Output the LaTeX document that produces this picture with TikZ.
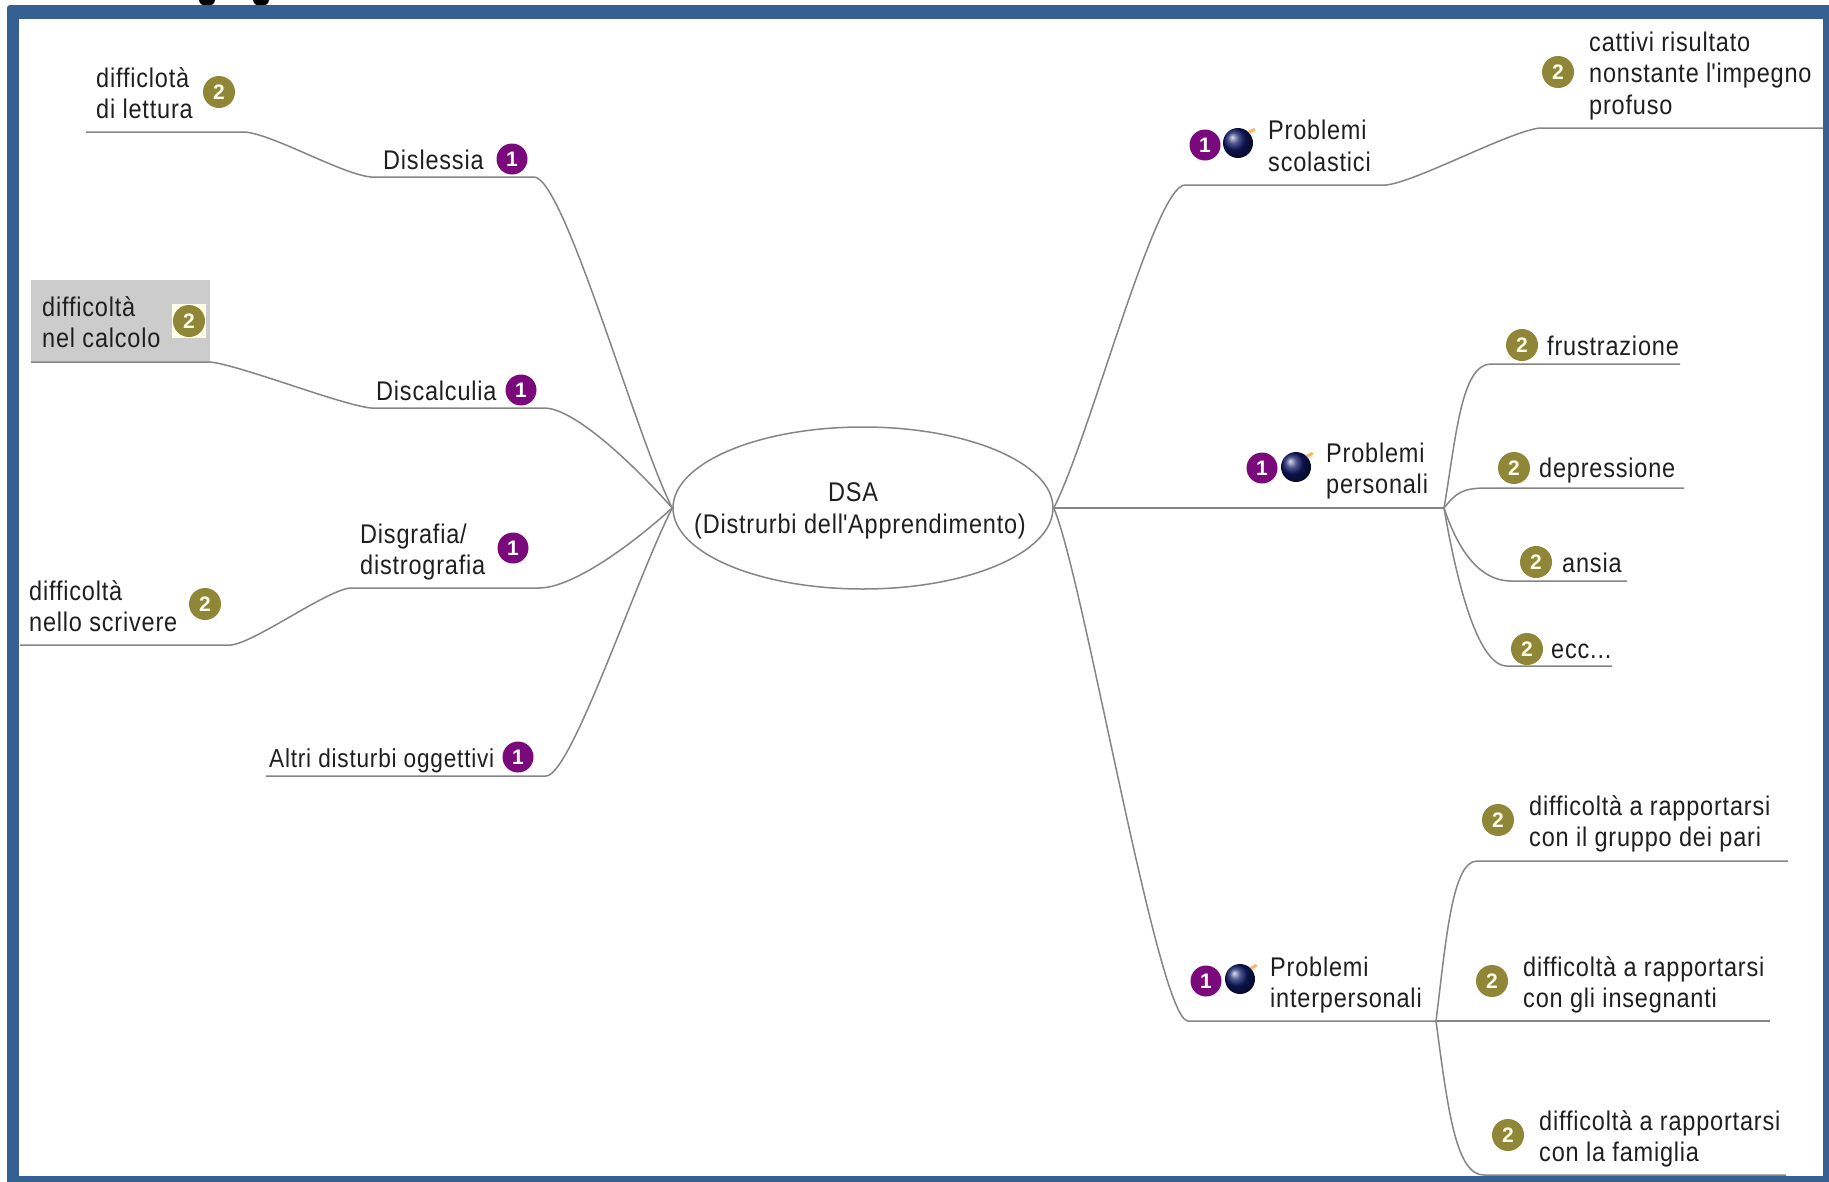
\documentclass[tikz,border=0pt]{standalone}
\usepackage{fontspec}
\usetikzlibrary{shapes.geometric}
\setmainfont[LetterSpace=3,FakeStretch=0.87]{Liberation Sans}
\newfontfamily\badgefont{Liberation Sans}
\definecolor{frameblue}{HTML}{366092}
\definecolor{linegray}{HTML}{858585}
\definecolor{boxgray}{HTML}{CCCCCC}
\definecolor{badgepurple}{HTML}{7A0A7C}
\definecolor{badgeolive}{HTML}{8F8638}
\definecolor{bombblue}{HTML}{101A68}
\tikzset{
 lbl/.style={anchor=west,align=left,inner sep=0pt,text=black!88,font=\fontsize{27}{31.5}\selectfont},
 conn/.style={draw=linegray,line width=1.5pt},
 badgeA/.style={circle,fill=badgepurple,text=white,minimum size=31pt,inner sep=0pt,font=\badgefont\fontsize{21}{21}\selectfont\bfseries},
 badgeB/.style={circle,fill=badgeolive,text=white!92!yellow,minimum size=32pt,inner sep=0pt,font=\badgefont\fontsize{21}{21}\selectfont\bfseries},
 bombball/.style={circle,minimum size=30pt,inner sep=0pt,ball color=bombblue,draw=none},
}
\newcommand{\bombat}[2]{%
 \node[bombball] (#1) at (#2) {};
 \draw[orange!60,line width=3pt] (#1.north east) -- +(6,-3);
}
\begin{document}
\begin{tikzpicture}[x=1pt,y=-1pt]
\useasboundingbox (0,0) rectangle (1829,1181);
\fill[white] (0,0) rectangle (1829,1181);
\begin{scope}
\clip (0,0) rectangle (1829,6);
\fill[black] (207,0) ellipse (8 and 6);
\fill[black] (261,0) ellipse (8 and 6);
\end{scope}
\fill[frameblue,rounded corners=3pt] (7,5) rectangle (1835,1187);
\fill[white] (19,19) rectangle (1823,1176);
\fill[boxgray] (31,280) rectangle (210,362);
\fill[white!90!yellow] (172,304) rectangle (206,338);

\node[ellipse,draw=linegray,line width=1.5pt,minimum width=380pt,minimum height=162pt,inner sep=0pt] (dsa) at (863,508) {};
\node[align=center,inner sep=0pt,text=black!88,font=\fontsize{27}{31.5}\selectfont] (dsatext) at (860,511) {DSA\hspace*{14pt}\\(Distrurbi dell\textquotesingle Apprendimento)};

% branch end points
\coordinate (a1) at (371,177); \coordinate (a2) at (534,177);
\coordinate (a3) at (86,132);  \coordinate (a4) at (245,132);
\coordinate (b1) at (371,408); \coordinate (b2) at (544,408);
\coordinate (b3) at (31,362);  \coordinate (b4) at (210,362);
\coordinate (c1) at (350,588); \coordinate (c2) at (539,588);
\coordinate (c3) at (20,645);  \coordinate (c4) at (231,645);
\coordinate (d1) at (266,776); \coordinate (d2) at (546,776);
\coordinate (e1) at (1185,185); \coordinate (e2) at (1386,185);
\coordinate (e3) at (1540,128); \coordinate (e4) at (1823,128);
\coordinate (f2) at (1444,508);
\coordinate (g1) at (1491,364); \coordinate (g2) at (1680,364);
\coordinate (g3) at (1487,488); \coordinate (g4) at (1684,488);
\coordinate (g5) at (1511,581); \coordinate (g6) at (1627,581);
\coordinate (g7) at (1507,666); \coordinate (g8) at (1612,666);
\coordinate (h1) at (1188,1021); \coordinate (h2) at (1436,1021);
\coordinate (i1) at (1477,861); \coordinate (i2) at (1788,861);
\coordinate (i3) at (1770,1021);
\coordinate (i4) at (1484,1175); \coordinate (i5) at (1786,1175);

% connectors, left
\draw[conn] (dsa.west) .. controls +(-36,-70) and +(30,0) .. (a2) -- (a1) .. controls +(-30,-3) and +(30,3) .. (a4) -- (a3);
\draw[conn] (dsa.west) .. controls +(-40,-45) and +(30,0) .. (b2) -- (b1) .. controls +(-30,-3) and +(30,3) .. (b4) -- (b3);
\draw[conn] (dsa.west) .. controls +(-50,45) and +(30,0) .. (c2) -- (c1) .. controls +(-25,3) and +(25,-3) .. (c4) -- (c3);
\draw[conn] (dsa.west) .. controls +(-36,70) and +(25,0) .. (d2) -- (d1);
% connectors, right
\draw[conn] (dsa.east) .. controls +(36,-70) and +(-30,0) .. (e1) -- (e2) .. controls +(30,-3) and +(-30,3) .. (e3) -- (e4);
\draw[conn] (dsa.east) -- (f2);
\draw[conn] (f2) .. controls +(12,-70) and +(-30,0) .. (g1) -- (g2);
\draw[conn] (f2) .. controls +(12,-15) and +(-25,0) .. (g3) -- (g4);
\draw[conn] (f2) .. controls +(15,45) and +(-30,0) .. (g5) -- (g6);
\draw[conn] (f2) .. controls +(12,70) and +(-30,0) .. (g7) -- (g8);
\draw[conn] (dsa.east) .. controls +(30,70) and +(-30,0) .. (h1) -- (h2);
\draw[conn] (h2) .. controls +(10,-80) and +(-25,0) .. (i1) -- (i2);
\draw[conn] (h2) -- (i3);
\draw[conn] (h2) .. controls +(12,90) and +(-28,0) .. (i4) -- (i5);

% left labels
\node[lbl] (t1) at (96,93) {difficlotà\\di lettura};
\node[badgeB] (n1) at (219,92) {2};
\node[lbl] (t2) at (383,160) {Dislessia};
\node[badgeA] (n2) at (512,159) {1};
\node[lbl] (t3) at (42,322) {difficoltà\\nel calcolo};
\node[badgeB] (n3) at (189,321) {2};
\node[lbl] (t4) at (376,391) {Discalculia};
\node[badgeA] (n4) at (521,390) {1};
\node[lbl] (t5) at (360,552) {Disgrafia/\\distrografia};
\node[badgeA] (n5) at (513,548) {1};
\node[lbl] (t6) at (29,606) {difficoltà\\nello scrivere};
\node[badgeB] (n6) at (205,604) {2};
\node[lbl,font=\fontsize{26}{31.5}\selectfont] (t7) at (269,761) {Altri disturbi oggettivi};
\node[badgeA] (n7) at (518,757) {1};

% right labels
\node[badgeA] (m1) at (1205,145) {1};
\bombat{k1}{1238,143}
\node[lbl] (s1) at (1268,146) {Problemi\\scolastici};
\node[badgeB] (m2) at (1558,72) {2};
\node[lbl] (s2) at (1589,76) {cattivi risultato\\nonstante l\textquotesingle impegno\\profuso};
\node[badgeA] (m3) at (1262,468) {1};
\bombat{k2}{1296,467}
\node[lbl] (s3) at (1326,471) {Problemi\\personali};
\node[badgeB] (m4) at (1522,345) {2};
\node[lbl] (s4) at (1547,346) {frustrazione};
\node[badgeB] (m5) at (1514,468) {2};
\node[lbl] (s5) at (1539,471) {depressione};
\node[badgeB] (m6) at (1536,562) {2};
\node[lbl] (s6) at (1562,563) {ansia};
\node[badgeB] (m7) at (1527,649) {2};
\node[lbl] (s7) at (1551,651) {ecc...};
\node[badgeA] (m8) at (1206,981) {1};
\bombat{k3}{1240,979}
\node[lbl] (s8) at (1270,985) {Problemi\\interpersonali};
\node[badgeB] (m9) at (1498,820) {2};
\node[lbl] (s9) at (1529,824) {difficoltà a rapportarsi\\con il gruppo dei pari};
\node[badgeB] (m10) at (1492,981) {2};
\node[lbl] (s10) at (1523,985) {difficoltà a rapportarsi\\con gli insegnanti};
\node[badgeB] (m11) at (1508,1135) {2};
\node[lbl] (s11) at (1539,1139) {difficoltà a rapportarsi\\con la famiglia};
\end{tikzpicture}
\end{document}
